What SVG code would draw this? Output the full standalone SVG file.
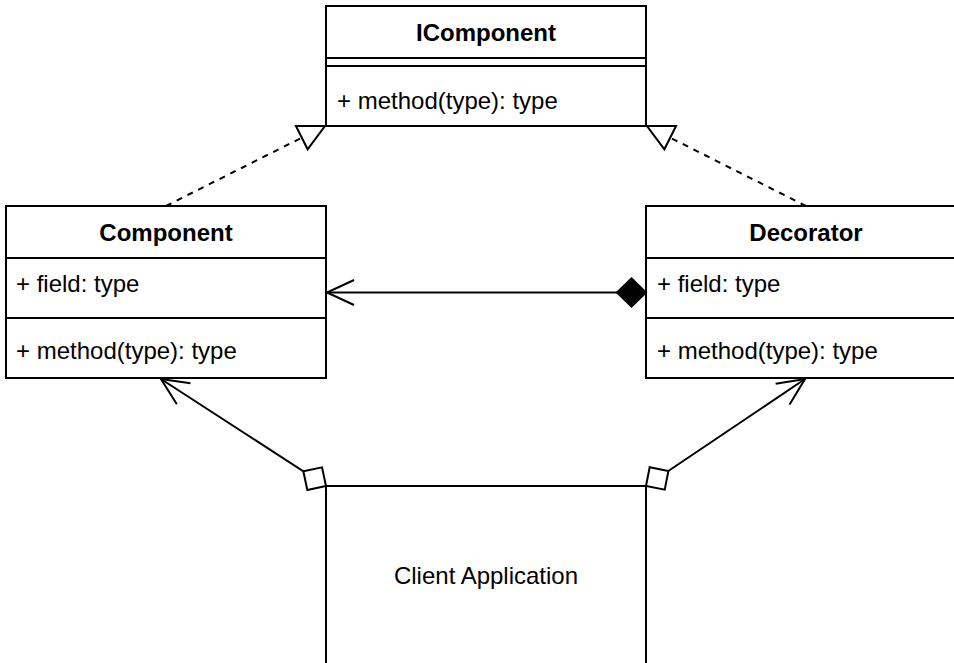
<svg xmlns="http://www.w3.org/2000/svg" width="954" height="663" viewBox="0 0 954 663">
  <style>
    .box { fill: #ffffff; stroke: #000000; stroke-width: 2; }
    .sep { stroke: #000000; stroke-width: 2; fill: none; }
    .title { font-family: "Liberation Sans", Arial, Helvetica, sans-serif; font-size: 24px; font-weight: bold; fill: #000000; text-anchor: middle; }
    .member { font-family: "Liberation Sans", Arial, Helvetica, sans-serif; font-size: 24px; fill: #000000; }
    .label { font-family: "Liberation Sans", Arial, Helvetica, sans-serif; font-size: 24px; fill: #000000; text-anchor: middle; }
    .edge { stroke: #000000; stroke-width: 2; fill: none; }
    .dashed { stroke-dasharray: 6 6; }
  </style>
  <defs>
    <marker id="triangle" markerUnits="userSpaceOnUse" viewBox="-2 -2 32 32" refX="26" refY="13" markerWidth="32" markerHeight="32" orient="auto" overflow="visible">
      <path d="M0,0 L26,13 L0,26 Z" fill="#ffffff" stroke="#000000" stroke-width="2" stroke-dasharray="none"/>
    </marker>
    <marker id="openArrow" markerUnits="userSpaceOnUse" viewBox="-2 -2 32 30" refX="27" refY="12.5" markerWidth="32" markerHeight="30" orient="auto" overflow="visible">
      <path d="M0,0 L27,12.5 L0,25" fill="none" stroke="#000000" stroke-width="2"/>
    </marker>
    <marker id="filledDiamond" markerUnits="userSpaceOnUse" viewBox="-2 -2 33 32" refX="0" refY="14" markerWidth="33" markerHeight="32" orient="auto" overflow="visible">
      <path d="M0,14 L14.5,0 L29,14 L14.5,28 Z" fill="#000000" stroke="#000000" stroke-width="2"/>
    </marker>
    <marker id="hollowDiamond" markerUnits="userSpaceOnUse" viewBox="-2 -2 31 31" refX="0" refY="13.5" markerWidth="31" markerHeight="31" orient="auto" overflow="visible">
      <path d="M0,13.5 L13.5,0 L27,13.5 L13.5,27 Z" fill="#ffffff" stroke="#000000" stroke-width="2"/>
    </marker>
  </defs>

  <rect width="954" height="663" fill="#ffffff"/>

  <g id="IComponent">
    <rect class="box" x="326" y="6" width="320" height="120"/>
    <line class="sep" x1="326" y1="58" x2="646" y2="58"/>
    <line class="sep" x1="326" y1="66" x2="646" y2="66"/>
    <text class="title" x="486" y="41">IComponent</text>
    <text class="member" x="337" y="109">+ method(type): type</text>
  </g>

  <g id="Component">
    <rect class="box" x="6" y="206" width="320" height="172"/>
    <line class="sep" x1="6" y1="258" x2="326" y2="258"/>
    <line class="sep" x1="6" y1="318" x2="326" y2="318"/>
    <text class="title" x="166" y="241">Component</text>
    <text class="member" x="16" y="292">+ field: type</text>
    <text class="member" x="16" y="359">+ method(type): type</text>
  </g>

  <g id="Decorator">
    <rect class="box" x="646" y="206" width="320" height="172"/>
    <line class="sep" x1="646" y1="258" x2="966" y2="258"/>
    <line class="sep" x1="646" y1="318" x2="966" y2="318"/>
    <text class="title" x="806" y="241">Decorator</text>
    <text class="member" x="657" y="292">+ field: type</text>
    <text class="member" x="657" y="359">+ method(type): type</text>
  </g>

  <g id="ClientApplication">
    <rect class="box" x="326" y="486" width="320" height="190"/>
    <text class="label" x="486" y="584">Client Application</text>
  </g>

  <g id="connectors">
    <path class="edge dashed" d="M166,206 L325,126" marker-end="url(#triangle)"/>
    <path class="edge dashed" d="M806,206 L647,126" marker-end="url(#triangle)"/>
    <path class="edge" d="M646,292.5 L327,292.5" marker-start="url(#filledDiamond)" marker-end="url(#openArrow)"/>
    <path class="edge" d="M326,486 L161,379" marker-start="url(#hollowDiamond)" marker-end="url(#openArrow)"/>
    <path class="edge" d="M646,486 L805,379" marker-start="url(#hollowDiamond)" marker-end="url(#openArrow)"/>
  </g>
</svg>
